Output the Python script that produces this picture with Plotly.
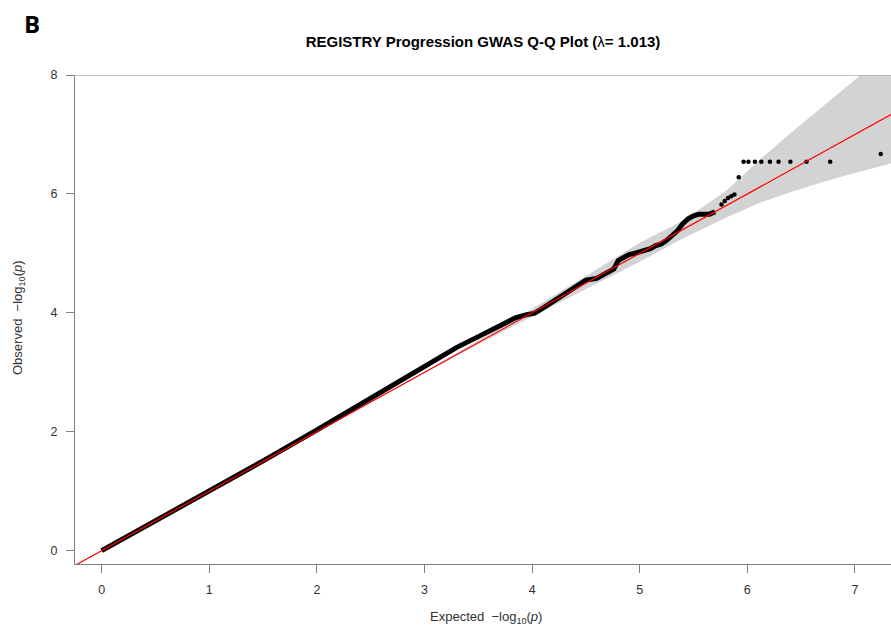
import plotly.graph_objects as go

# Observed vs expected -log10(p), dense part
dense_expected = [0, 0.5, 1.0, 1.5, 2.0, 2.3, 2.6, 2.9, 3.1, 3.3, 3.5, 3.7, 3.85, 3.95, 4.02,
                  4.1, 4.2, 4.3, 4.4, 4.5, 4.6, 4.7, 4.76, 4.8, 4.85, 4.9, 4.95, 5.0, 5.05,
                  5.1, 5.15, 5.2, 5.25, 5.3, 5.35, 5.4, 5.45, 5.5, 5.55, 5.6, 5.65, 5.7]
dense_observed = [0, 0.5, 1.0, 1.51, 2.03, 2.35, 2.66, 2.98, 3.19, 3.42, 3.60, 3.79, 3.92, 3.97, 3.99,
                  4.08, 4.20, 4.30, 4.42, 4.55, 4.58, 4.68, 4.74, 4.88, 4.93, 4.98, 5.0, 5.02, 5.06,
                  5.08, 5.13, 5.16, 5.22, 5.30, 5.38, 5.50, 5.58, 5.63, 5.66, 5.66, 5.66, 5.70]

# Sparse top points
top_expected = [5.76, 5.79, 5.82, 5.85, 5.88, 5.92, 5.965, 6.01, 6.07, 6.13, 6.21, 6.29,
                6.40, 6.55, 6.77, 7.24]
top_observed = [5.82, 5.88, 5.93, 5.96, 5.99, 6.28, 6.54, 6.54, 6.54, 6.54, 6.54, 6.54,
                6.54, 6.54, 6.54, 6.67]

# Confidence band
band_x = [0, 1, 2, 3, 3.5, 4.0, 4.5, 5.0, 5.4, 5.8, 6.1, 6.4, 6.7, 7.0, 7.335]
band_lower = [0, 1, 2, 2.99, 3.47, 3.94, 4.40, 4.86, 5.25, 5.60, 5.84, 6.03, 6.20, 6.35, 6.51]
band_upper = [0, 1, 2, 3.01, 3.54, 4.07, 4.62, 5.18, 5.55, 6.05, 6.55, 7.02, 7.47, 7.92, 8.45]

# Reference line y = x
ref_x = [-0.248, 7.335]

x_ticks = [0, 1, 2, 3, 4, 5, 6, 7]
y_ticks = [0, 2, 4, 6, 8]

title_text = "<b>REGISTRY Progression GWAS Q-Q Plot (</b>λ<b>= 1.013)</b>"
xlab = "Expected  \u2212log<sub>10</sub>(<i>p</i>)"
ylab = "Observed  \u2212log<sub>10</sub>(<i>p</i>)"

fig = go.Figure()

fig.add_trace(go.Scatter(x=band_x, y=band_lower, mode="lines",
                         line=dict(color="rgba(0,0,0,0)", width=0),
                         showlegend=False, hoverinfo="skip"))
fig.add_trace(go.Scatter(x=band_x, y=band_upper, mode="lines", fill="tonexty",
                         fillcolor="#d3d3d3", line=dict(color="rgba(0,0,0,0)", width=0),
                         showlegend=False, hoverinfo="skip"))

fig.add_trace(go.Scatter(x=dense_expected, y=dense_observed, mode="lines",
                         line=dict(color="black", width=5), showlegend=False))
fig.add_trace(go.Scatter(x=top_expected, y=top_observed, mode="markers",
                         marker=dict(color="black", size=4.5), showlegend=False))

fig.add_trace(go.Scatter(x=ref_x, y=ref_x, mode="lines",
                         line=dict(color="#ff0000", width=1.2), showlegend=False))

font_family = "Liberation Sans, Arial, sans-serif"

fig.update_layout(
    width=891, height=632,
    margin=dict(l=75, r=0, t=75, b=68),
    paper_bgcolor="white", plot_bgcolor="white",
    font=dict(family=font_family, color="#333333", size=12.5),
    title=dict(text=title_text, x=0.5, xref="paper", xanchor="center",
               y=1 - 42 / 632, yref="container", yanchor="middle",
               font=dict(family=font_family, size=15, color="black")),
    xaxis=dict(range=[-0.248, 7.335], tickvals=x_ticks, showgrid=False, zeroline=False,
               showline=True, linecolor="#808080", linewidth=1,
               ticks="outside", ticklen=8, tickcolor="#808080", ticklabelstandoff=6,
               tickfont=dict(size=12.5, color="#333333")),
    yaxis=dict(range=[-0.224, 8], tickvals=y_ticks, showgrid=False, zeroline=False,
               showline=True, linecolor="#808080", linewidth=1,
               ticks="outside", ticklen=8, tickcolor="#808080", ticklabelstandoff=6,
               tickfont=dict(size=12.5, color="#333333")),
    shapes=[dict(type="line", xref="paper", x0=0, x1=1, yref="y", y0=8, y1=8,
                 line=dict(color="#b0b0b0", width=1.5))],
    annotations=[
        dict(text=xlab, xref="paper", yref="paper", x=(486 - 75) / 816, y=-(617 - 564) / 489,
             xanchor="center", yanchor="middle", showarrow=False,
             font=dict(size=13, color="#333333")),
        dict(text=ylab, xref="paper", yref="paper", x=-(75 - 18) / 816, y=(564 - 318) / 489,
             xanchor="center", yanchor="middle", showarrow=False, textangle=-90,
             font=dict(size=13, color="#333333")),
        dict(text="<b>B</b>", xref="paper", yref="paper", x=-(75 - 32) / 816, y=(564 - 23) / 489,
             xanchor="center", yanchor="middle", showarrow=False,
             font=dict(family="Open Sans, sans-serif", size=24, color="black")),
    ],
)

fig.write_html("out.html")
